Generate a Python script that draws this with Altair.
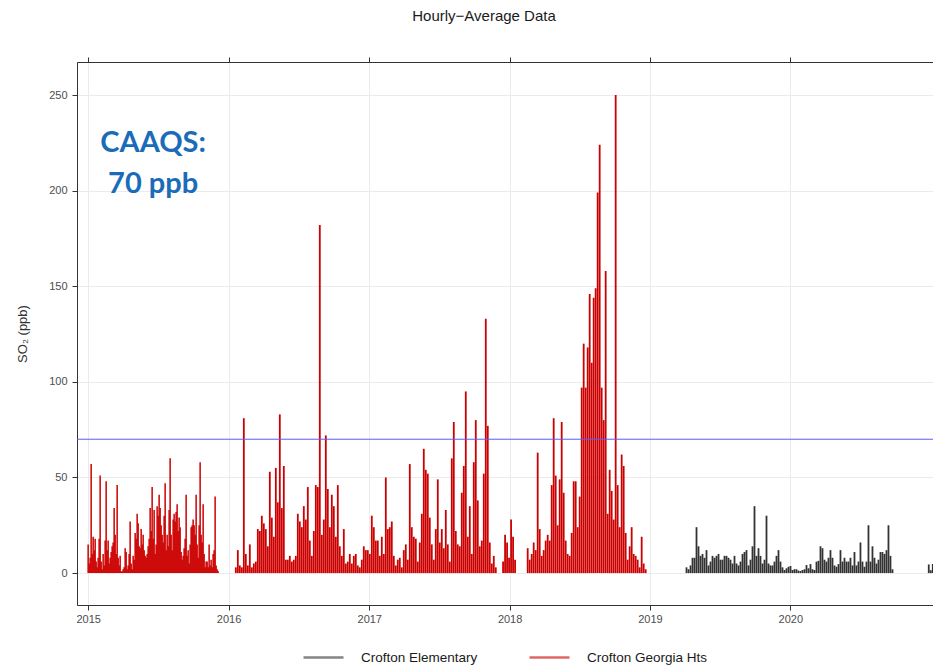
import altair as alt
import numpy as np
import pandas as pd

# ---------------- data ----------------
sites = ["Crofton Elementary", "Crofton Georgia Hts"]
site_colors = ["#333333", "#CC0000"]

# Crofton Georgia Hts (red), hourly peaks sampled along each data run
seg_a_start, seg_a_step = "2015-01-01", 2.6
seg_a = [15,5,8,57,10,19,12,18,6,3, 8,18,51,6,2,10,4,17,48,12, 17,5,8,11,14,16,34,20,10,46,
         8,4,9,1,1,2,3,13,11,2, 4,10,27,5,2,9,7,21,18,31, 26,14,13,23,15,20,12,9,8,10,
         14,18,34,22,45,18,33,10,15,35, 30,41,34,25,20,16,30,47,12,20, 14,33,60,20,12,28,31,27,32,36,
         22,29,24,11,7,9,13,18,41,9, 12,5,15,24,25,28,25,20,41,15, 8,25,58,20,16,36,10,3,6,6,
         3,15,4,7,3,10,12,40,4,2, 1]

seg_b_start, seg_b_step = "2016-01-20", 5.2
seg_b = [3,12,4,3,81,10,4,15,3,5, 6,23,22,30,26,23,14,53,29,19, 55,37,83,34,56,7,7,9,6,7,
         9,31,27,24,35,28,45,17,9,22, 46,45,182,20,28,72,44,24,41,35, 19,46,14,9,23,5,6,10,5,9,
         10,4,3,7,14,12,12,10,30,24, 17,17,9,19,10,50,23,24,27,9, 4,7,8,3,12,15,7,57,24,19,
         18,6,16,31,65,54,52,29,15,7, 23,49,16,23,13,33,15,6,60,79, 22,15,14,42,56,95,19,35,10,58,
         80,38,14,17,52,133,77,16,5,9, 3]

seg_c_start, seg_c_step = "2017-12-15", 5.2
seg_c = [6,20,16,8,28,19,7]

seg_d_start, seg_d_step = "2018-02-17", 5.2
seg_d = [13,7,10,16,12,63,23,9,12,17, 20,17,46,81,51,25,49,79,42,17, 10,9,21,48,48,24,40,97,120,97,
         118,146,110,144,149,199,224,97,80,158, 31,54,43,28,250,46,24,62,56,21, 7,14,24,10,9,7,3,19,5,2]

# Crofton Elementary (dark grey)
seg_e_start, seg_e_step = "2019-04-06", 5.2
seg_e = [3,2,4,8,8,24,14,9,10,8, 12,4,6,9,8,9,10,7,7,9, 9,8,7,5,9,5,4,6,10,11,
         12,4,7,14,35,9,13,9,5,7, 30,5,4,4,6,9,12,6,3,1.6, 2.5,3.3,3.7,1.6,2,2,1.3,1.1,1.6,2,
         4.2,2.5,4.7,2,1.6,6,6.4,14,13,7, 6,8,12,8,4,3.3,4.7,12,6,8, 6,6,8,4,11,4,6,16,6,3.3,
         6,25,6,14,8,5,7,11,11,10, 12,25,9,2]

seg_f_start, seg_f_step = "2020-12-26", 5.2
seg_f = [4.5, 1.5, 4.7]

limit_value = [70]
caaqs_lines = ["CAAQS:", "70 ppb"]
caaqs_date = "2015-06-19"
caaqs_y = [220, 199]

year_ticks = [2015, 2016, 2017, 2018, 2019, 2020]
y_ticks = [0, 50, 100, 150, 200, 250]

# ---------------- build tables ----------------
def segment(start, step, vals, site):
    ts = pd.Timestamp(start) + pd.to_timedelta(np.arange(len(vals)) * step, unit="D")
    return pd.DataFrame({"date": ts.strftime("%Y-%m-%dT%H:%M:%SZ"), "value": vals, "site": site})

df_fine = segment(seg_a_start, seg_a_step, seg_a, sites[1])
df = pd.concat([
    segment(seg_b_start, seg_b_step, seg_b, sites[1]),
    segment(seg_c_start, seg_c_step, seg_c, sites[1]),
    segment(seg_d_start, seg_d_step, seg_d, sites[1]),
    segment(seg_e_start, seg_e_step, seg_e, sites[0]),
    segment(seg_f_start, seg_f_step, seg_f, sites[0]),
], ignore_index=True)

limit_df = pd.DataFrame({"value": limit_value})
caaqs_df = pd.DataFrame({"date": [caaqs_date + "T00:00:00Z"] * 2, "value": caaqs_y, "label": caaqs_lines})

year_vals = [alt.DateTime(year=y, month=1, date=1, utc=True) for y in year_ticks]
xscale = alt.Scale(type="utc",
                   domain=[alt.DateTime(year=2014, month=12, date=3, utc=True),
                           alt.DateTime(year=2021, month=1, date=6, utc=True)])
yscale = alt.Scale(domain=[-16.7, 267.3], nice=False, zero=False)

FONT = "Liberation Sans"

y_axis = alt.Axis(values=y_ticks, grid=True, gridColor="#ebebeb", domain=True,
                  domainColor="#333333", tickColor="#333333", tickSize=5,
                  labelPadding=5, labelFont=FONT, labelFontSize=11, labelColor="#4d4d4d",
                  title="SO₂ (ppb)", titleFont=FONT, titleFontSize=13,
                  titleFontWeight="normal", titleColor="#333333", titlePadding=19)

color_enc = alt.Color("site:N", scale=alt.Scale(domain=sites, range=site_colors),
                      legend=alt.Legend(orient="none", legendX=225, legendY=574,
                                        direction="horizontal", title=None,
                                        symbolType="stroke", symbolSize=1600,
                                        symbolStrokeWidth=2.5, symbolOpacity=0.6,
                                        labelOffset=16, columnPadding=46,
                                        labelFont=FONT, labelFontSize=13.5,
                                        labelColor="#1a1a1a"))

spikes = alt.Chart(df).mark_rule(strokeWidth=1.8).encode(
    x=alt.X("date:T", scale=xscale,
            axis=alt.Axis(orient="bottom", values=year_vals,
                          labelExpr="utcFormat(datum.value, '%Y')",
                          grid=True, gridColor="#ebebeb", domain=True, domainColor="#333333",
                          tickColor="#333333", tickSize=5, labelPadding=3, title=None,
                          labelFont=FONT, labelFontSize=11, labelColor="#4d4d4d")),
    y=alt.Y("value:Q", scale=yscale, axis=y_axis),
    y2=alt.datum(0),
    color=color_enc,
)

spikes_fine = alt.Chart(df_fine).mark_rule(strokeWidth=1.5).encode(
    x=alt.X("date:T", scale=xscale, axis=None),
    y=alt.Y("value:Q", scale=yscale, axis=y_axis),
    y2=alt.datum(0),
    color=color_enc,
)

limit = alt.Chart(limit_df).mark_rule(color="#5c5cff", strokeWidth=1).encode(
    y=alt.Y("value:Q", scale=yscale, axis=y_axis)
)

caaqs = alt.Chart(caaqs_df).mark_text(
    font="Lato", fontWeight="bold", fontSize=29, color="#1A6BB8",
    align="center", baseline="alphabetic"
).encode(
    x=alt.X("date:T", scale=xscale,
            axis=alt.Axis(orient="top", values=year_vals, labels=False, grid=False,
                          domain=True, domainColor="#333333", tickColor="#333333",
                          tickSize=5, title=None)),
    y=alt.Y("value:Q", scale=yscale, axis=y_axis),
    text="label:N",
)

chart = alt.layer(spikes, spikes_fine, limit, caaqs).resolve_axis(x="independent").properties(
    width=856, height=543,
    title=alt.TitleParams("Hourly−Average Data", anchor="middle", dx=-21, offset=33,
                          font=FONT, fontSize=15, fontWeight="normal", color="#1a1a1a"),
    autosize=alt.AutoSizeParams(type="none"),
    padding={"left": 69, "top": 54, "right": 0, "bottom": 60},
).configure_view(stroke=None).configure(background="white")

chart.save("out.html", embed_options={"renderer": "svg", "actions": False})
